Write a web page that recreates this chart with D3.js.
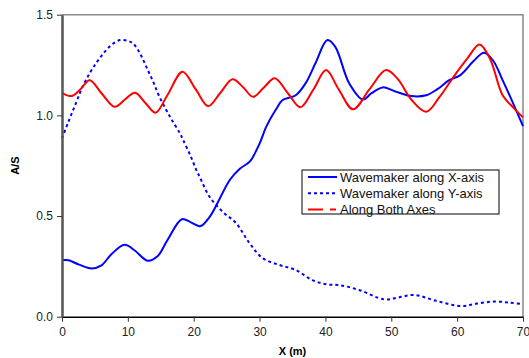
<!DOCTYPE html>
<html>
<head>
<meta charset="utf-8">
<script src="https://cdn.jsdelivr.net/npm/d3@7"></script>
<style>
  body { margin: 0; background: #fff; }
  svg { font-family: "Liberation Sans", Arial, sans-serif; }
</style>
</head>
<body>
<svg id="chart" width="529" height="358"></svg>
<script>
// values
const xAlongX = [0, 1, 2.5, 4.5, 6, 7.5, 9.5, 11, 13, 14.5, 16, 18.2, 19.5, 21, 22.5, 24, 25.5, 27, 28.5, 30, 31, 32.5, 33.5, 35.5, 37, 38.5, 40.3, 41.5, 43.6, 45.7, 47, 48.7, 50.5, 53, 55.3, 57, 58.8, 60.5, 62.5, 64.1, 65.5, 66.9, 68.5, 70];
const yAlongX = [0.28, 0.28, 0.26, 0.24, 0.255, 0.31, 0.357, 0.33, 0.278, 0.30, 0.38, 0.484, 0.47, 0.45, 0.50, 0.59, 0.68, 0.735, 0.77, 0.86, 0.943, 1.03, 1.076, 1.10, 1.16, 1.26, 1.374, 1.34, 1.16, 1.079, 1.11, 1.139, 1.12, 1.096, 1.10, 1.13, 1.175, 1.20, 1.27, 1.311, 1.27, 1.175, 1.06, 0.947];

const xAlongY = [0, 1, 2.1, 3.1, 4.2, 5.2, 6.3, 7.5, 8.8, 10, 10.8, 11.8, 12.8, 13.8, 14.8, 16.4, 17.9, 18.4, 19.5, 20.4, 20.9, 22.4, 24.4, 26.4, 28.5, 30.5, 33, 35.5, 38, 40.1, 42.1, 45.1, 48.9, 51, 53.5, 56.7, 60.5, 63, 65.6, 68, 70];
const yAlongY = [0.886, 0.97, 1.06, 1.14, 1.209, 1.26, 1.308, 1.35, 1.374, 1.37, 1.357, 1.31, 1.241, 1.17, 1.092, 0.993, 0.911, 0.877, 0.80, 0.728, 0.695, 0.596, 0.521, 0.466, 0.364, 0.29, 0.257, 0.232, 0.182, 0.161, 0.157, 0.133, 0.086, 0.095, 0.108, 0.08, 0.053, 0.065, 0.075, 0.07, 0.062];

const xBoth = [0, 1.5, 2.8, 4.2, 6, 8, 9.6, 11.1, 12.7, 14.2, 16, 18.3, 20.3, 22.2, 24, 25.9, 27.5, 29, 30.7, 32.3, 34.3, 36.2, 38.2, 40.1, 42, 44.2, 46.7, 49.2, 51, 53, 55.3, 57.3, 59.3, 61.5, 63.4, 65, 66.9, 68.5, 70];
const yBoth = [1.112, 1.096, 1.13, 1.175, 1.11, 1.043, 1.08, 1.112, 1.06, 1.013, 1.10, 1.217, 1.13, 1.046, 1.11, 1.179, 1.14, 1.092, 1.14, 1.184, 1.11, 1.04, 1.13, 1.225, 1.13, 1.03, 1.13, 1.225, 1.18, 1.08, 1.018, 1.09, 1.184, 1.28, 1.352, 1.28, 1.10, 1.04, 0.99];

const xTicks = [0, 10, 20, 30, 40, 50, 60, 70];
const yTicks = [0, 0.5, 1.0, 1.5];

const series = [
  { name: "Wavemaker along X-axis", xs: xAlongX, ys: yAlongX, color: "#0000ff", dash: null },
  { name: "Wavemaker along Y-axis", xs: xAlongY, ys: yAlongY, color: "#0000ff", dash: "3,3" },
  { name: "Along Both Axes", xs: xBoth, ys: yBoth, color: "#ff0000", dash: null, legendDash: "15,7,6,10" }
];

const svg = d3.select("#chart");
const margin = { top: 14.7, right: 6, bottom: 41.3, left: 62 };
const width = 529, height = 358;

const x = d3.scaleLinear().domain([0, 70]).range([margin.left, width - margin.right]);
const y = d3.scaleLinear().domain([0, 1.5]).range([height - margin.bottom, margin.top]);

// top & right frame
svg.append("path")
  .attr("d", `M${x(0)},${y(1.5)}H${x(70)}V${y(0)}`)
  .attr("fill", "none")
  .attr("stroke", "#888")
  .attr("stroke-width", 1.5);

const line = d3.line()
  .x(d => x(d[0]))
  .y(d => y(d[1]))
  .curve(d3.curveCatmullRom.alpha(0.5));

series.forEach(s => {
  svg.append("path")
    .datum(s.xs.map((v, i) => [v, s.ys[i]]))
    .attr("fill", "none")
    .attr("stroke", s.color)
    .attr("stroke-width", 2)
    .attr("stroke-dasharray", s.dash)
    .attr("d", line);
});

// axes
const xAxis = svg.append("g")
  .attr("transform", `translate(0,${y(0)})`)
  .call(d3.axisBottom(x).tickValues(xTicks).tickSize(5).tickPadding(6).tickSizeOuter(0));
const yAxis = svg.append("g")
  .attr("transform", `translate(${x(0)},0)`)
  .call(d3.axisLeft(y).tickValues(yTicks).tickFormat(d3.format(".1f")).tickSize(5).tickPadding(4).tickSizeOuter(0));

xAxis.select(".domain").attr("stroke", "#000").attr("stroke-width", 1.5);
yAxis.select(".domain").attr("stroke", "#555").attr("stroke-width", 2.5);
svg.selectAll(".tick line").attr("stroke", "#333");
svg.selectAll(".tick text").attr("font-size", 12).attr("fill", "#222")
  .attr("font-family", "Liberation Sans, Arial, sans-serif");

// axis titles
svg.append("text")
  .attr("x", (x(0) + x(70)) / 2)
  .attr("y", 355)
  .attr("text-anchor", "middle")
  .attr("font-size", 11)
  .attr("font-weight", "bold")
  .text("X (m)");

svg.append("text")
  .attr("transform", `translate(19,${y(0.75)}) rotate(-90)`)
  .attr("text-anchor", "middle")
  .attr("font-size", 11)
  .attr("font-weight", "bold")
  .text("A/S");

// legend
const legend = svg.append("g").attr("transform", "translate(302,170)");
legend.append("rect")
  .attr("width", 197)
  .attr("height", 44)
  .attr("fill", "#fff")
  .attr("stroke", "#000")
  .attr("stroke-width", 1);

series.forEach((s, i) => {
  const ly = 7 + i * 16.3;
  legend.append("line")
    .attr("x1", 6).attr("x2", 35)
    .attr("y1", ly).attr("y2", ly)
    .attr("stroke", s.color)
    .attr("stroke-width", 2)
    .attr("stroke-dasharray", s.legendDash || s.dash);
  legend.append("text")
    .attr("x", 38)
    .attr("y", ly)
    .attr("dy", "0.35em")
    .attr("font-size", 13)
    .attr("fill", "#111")
    .text(s.name);
});
</script>
</body>
</html>
